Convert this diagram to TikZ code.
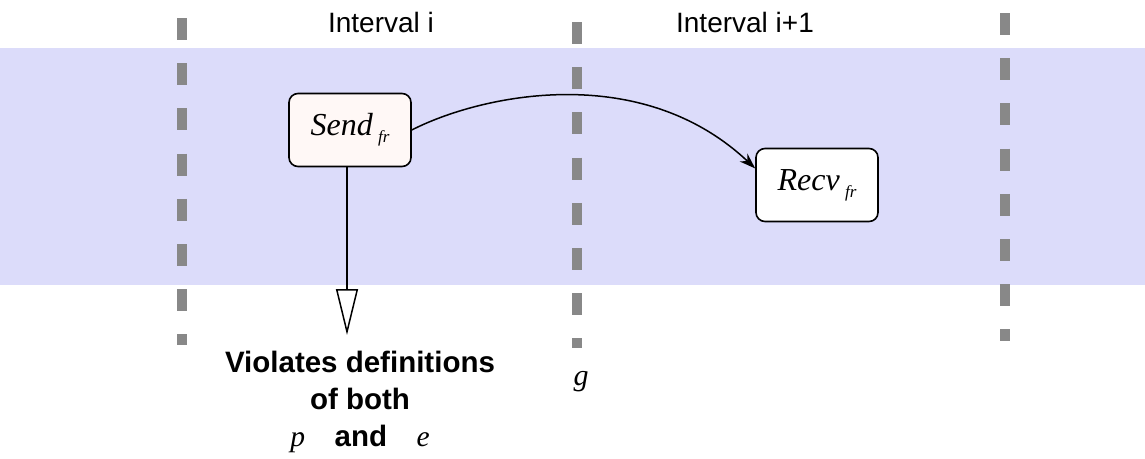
\documentclass[tikz,border=0pt]{standalone}
\usepackage{fontspec}
\setmainfont{Liberation Sans}
\newfontfamily\labelserif{Liberation Serif}
\usetikzlibrary{arrows.meta}
\definecolor{bandblue}{RGB}{220,220,250}
\definecolor{sendfill}{RGB}{255,248,246}
\definecolor{divgray}{RGB}{136,136,136}
\newcommand{\evsub}[1]{\,\raisebox{-7pt}{\fontsize{17}{17}\selectfont #1}}

\begin{document}
\begin{tikzpicture}[x=1pt, y=-1pt,
		event/.style={draw, line width=1.6pt, rounded corners=9pt, minimum width=122pt, minimum height=73pt,
			font=\fontsize{32}{36}\selectfont\labelserif\itshape},
		divider/.style={divgray, line width=10pt, dash pattern=on 22pt off 23.2pt},
		caption/.style={font=\fontsize{28}{32}\selectfont}]
	\useasboundingbox (0,0) rectangle (1145,458);
	% band
	\fill[bandblue] (0,48) rectangle (1145,285);
	% interval borders
	\draw[divider] (182,18) -- (182,345);
	\draw[divider] (577,22) -- (577,348);
	\draw[divider] (1005,13) -- (1005,341);
	\node[caption] (int1) at (381,22) {Interval i};
	\node[caption] (int2) at (745,22) {Interval i+1};
	% events
	\node[event, fill=sendfill] (send) at (350,130) {Send\evsub{fr}};
	\node[event, fill=white] (recv) at (817,185) {Recv\evsub{fr}};
	\draw[line width=1.5pt, -{Stealth[length=16pt, width=11pt]}]
		(send.east) .. controls (480,95) and (640,60) .. (recv.165);
	\node[shape=coordinate] (tip) at (347,335) {};
	\draw[line width=1.5pt, -{Triangle[open, length=46pt, width=22pt]}] (send.south -| tip) -- (tip);
	\node[font=\fontsize{29.5}{37}\selectfont\bfseries, align=center] (viol) at (360,402)
		{Violates definitions\\of both\\{\labelserif\mdseries\itshape p}\quad and\quad{\labelserif\mdseries\itshape e}};
	\node[font=\fontsize{30}{30}\selectfont\labelserif\itshape] (glabel) at (581,382) {g};
\end{tikzpicture}
\end{document}
